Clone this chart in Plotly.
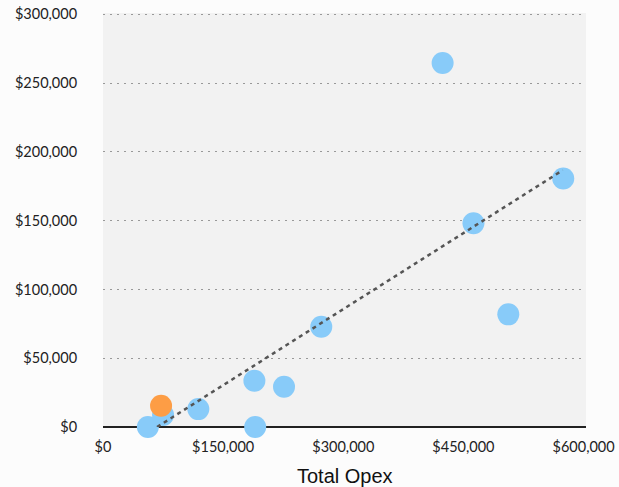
import plotly.graph_objects as go

# Data
opex_x = [56000, 75000, 119000, 189000, 190000, 226000, 272500, 424000, 462500, 506000, 574600]
value_y = [0, 8700, 13000, 33600, 0, 29300, 72900, 264600, 148200, 81900, 180700]
highlight_x = [72500]
highlight_y = [15500]
trend_x = [67500, 574000]
trend_y = [0, 186700]
x_ticks = [0, 150000, 300000, 450000, 600000]
x_labels = ["$0", "$150,000", "$300,000", "$450,000", "$600,000"]
y_ticks = [0, 50000, 100000, 150000, 200000, 250000, 300000]
y_labels = ["$0", "$50,000", "$100,000", "$150,000", "$200,000", "$250,000", "$300,000"]
x_title = "Total Opex"

fig = go.Figure()
fig.add_trace(go.Scatter(x=opex_x, y=value_y, mode="markers",
                         marker=dict(size=22, color="#88CBF9"), cliponaxis=False,
                         showlegend=False))
fig.add_trace(go.Scatter(x=highlight_x, y=highlight_y, mode="markers",
                         marker=dict(size=22, color="#FD9D45"), cliponaxis=False,
                         showlegend=False))
fig.add_trace(go.Scatter(x=trend_x, y=trend_y, mode="lines",
                         line=dict(color="#555555", width=2.5, dash="4px,4px"),
                         cliponaxis=False, showlegend=False))

tickfont = dict(family="Lato, sans-serif", size=14.5, color="#222222")
fig.update_layout(
    width=619, height=487,
    margin=dict(l=103, r=33, t=13, b=60, autoexpand=False),
    paper_bgcolor="#fcfcfc",
    plot_bgcolor="#f2f2f2",
    xaxis=dict(range=[0, 603000], tickvals=x_ticks, ticktext=x_labels,
               showgrid=False, zeroline=False, showline=False,
               ticks="outside", ticklen=7, tickcolor="rgba(0,0,0,0)",
               tickfont=tickfont, automargin=False),
    yaxis=dict(range=[0, 301000], tickvals=y_ticks, ticktext=y_labels,
               showgrid=True, gridcolor="#999999", griddash="2px,5px", gridwidth=1,
               zeroline=True, zerolinecolor="#222222", zerolinewidth=1.5,
               showline=False, ticks="outside", ticklen=22, tickcolor="rgba(0,0,0,0)",
               tickfont=tickfont, automargin=False),
    annotations=[dict(text=x_title, xref="paper", yref="paper", x=0.5, y=-0.119,
                      xanchor="center", yanchor="middle", showarrow=False,
                      font=dict(family="Liberation Sans, Arial", size=20, color="#111111"))],
)
fig.write_html("out.html")
